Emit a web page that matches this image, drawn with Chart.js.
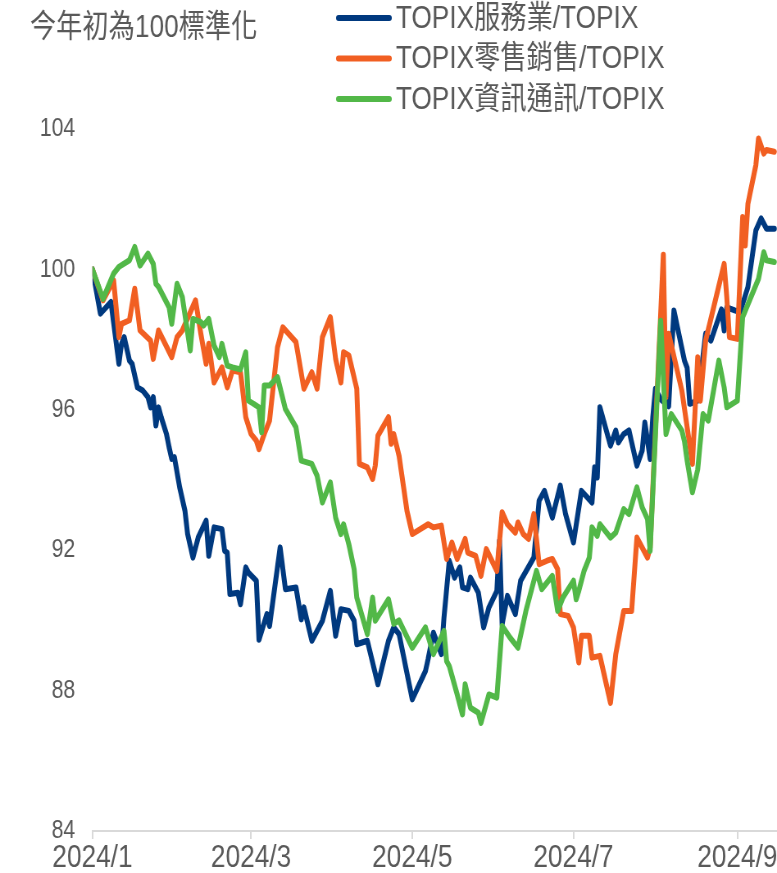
<!DOCTYPE html>
<html>
<head>
<meta charset="utf-8">
<script src="https://cdn.jsdelivr.net/npm/chart.js@4/dist/chart.umd.min.js"></script>
<style>
html,body{margin:0;padding:0;overflow:hidden;background:#fff;width:777px;height:873px;}
#wrap{position:absolute;left:0;top:0;width:948px;height:873px;transform:scaleX(0.8196);transform-origin:0 0;}
</style>
</head>
<body>
<div id="wrap"><canvas id="c" width="948" height="873"></canvas></div>
<script>
// ---- data ----
const noteText = '今年初為100標準化';
const seriesNames = ['TOPIX服務業/TOPIX', 'TOPIX零售銷售/TOPIX', 'TOPIX資訊通訊/TOPIX'];
const seriesColors = ['#00397F', '#F15F22', '#52B848'];
const xTickDates = ['1/1', '3/1', '5/1', '7/1', '9/1'];
const xTickLabels = ['2024/1', '2024/3', '2024/5', '2024/7', '2024/9'];
const yTickValues = [84, 88, 92, 96, 100, 104];

const serviceDates = [
  '1/1','1/4','1/8','1/11','1/12','1/13','1/15','1/16','1/18','1/20','1/22','1/23','1/24','1/25','1/26','1/27','1/29','1/30','1/31',
  '2/1','2/3','2/5','2/6','2/8','2/10','2/13','2/14','2/16','2/19','2/20','2/21','2/22','2/25','2/26','2/28','2/29',
  '3/3','3/4','3/7','3/8','3/12','3/14','3/18','3/20','3/21','3/24','3/28','3/31',
  '4/2','4/4','4/7','4/9','4/10','4/14','4/18','4/22','4/24','4/26',
  '5/1','5/6','5/7','5/9','5/12','5/13','5/15','5/17','5/19','5/20','5/22','5/23','5/26','5/28','5/30',
  '6/2','6/3','6/4','6/6','6/9','6/11','6/16','6/18','6/20','6/23','6/26','6/28',
  '7/1','7/4','7/8','7/9','7/10','7/11','7/15','7/17','7/18','7/20','7/22','7/25','7/27','7/28','7/30','7/31',
  '8/1','8/3','8/6','8/8','8/12','8/13','8/14','8/17','8/20','8/22','8/26','8/27','8/28','8/31',
  '9/2','9/5','9/8','9/10','9/12','9/15'];
const serviceValues = [
  100.0,98.74,99.07,97.31,97.88,98.07,97.40,97.31,96.64,96.55,96.36,96.07,96.36,95.55,96.07,95.79,95.31,94.93,94.60,
  94.65,93.79,93.12,92.46,91.79,92.36,92.84,91.84,92.65,92.60,91.98,91.93,90.75,90.79,90.46,91.51,91.36,
  91.13,89.45,90.18,89.84,92.08,90.89,90.94,90.03,90.37,89.42,89.99,90.84,
  89.56,90.32,90.27,89.99,89.32,89.42,88.18,89.42,89.80,89.61,
  87.75,88.56,88.90,89.65,89.04,90.08,91.70,91.22,91.51,90.94,90.89,91.22,90.79,89.80,90.37,
  90.84,92.27,89.89,90.70,90.18,91.13,91.79,93.41,93.69,92.93,93.84,93.03,
  92.22,93.69,93.36,94.36,94.07,96.07,94.98,95.41,95.07,95.31,95.41,94.41,94.84,95.64,94.60,95.79,
  96.60,96.30,96.10,98.83,97.40,97.20,96.17,96.26,98.17,97.97,98.86,98.26,98.92,98.83,
  98.78,99.50,101.11,101.45,101.16,101.16];

const retailDates = [
  '1/1','1/5','1/9','1/11','1/12','1/15','1/17','1/19','1/23','1/24','1/26','1/31',
  '2/2','2/4','2/9','2/11','2/13','2/14','2/16','2/19','2/21','2/23','2/26','2/27','2/28',
  '3/1','3/3','3/4','3/6','3/8','3/11','3/13','3/18','3/21','3/24','3/26','3/28','3/31',
  '4/2','4/4','4/5','4/7','4/10','4/11','4/14','4/16','4/17','4/18','4/22','4/23','4/24','4/26','4/29',
  '5/1','5/7','5/9','5/12','5/14','5/16','5/18','5/21','5/22','5/25','5/27','5/29',
  '6/2','6/4','6/6','6/9','6/10','6/12','6/14','6/16','6/18','6/21','6/23','6/25','6/26','6/29',
  '7/1','7/3','7/4','7/7','7/8','7/11','7/15','7/17','7/20','7/23','7/25','7/29','7/30',
  '8/4','8/5','8/6','8/11','8/15','8/17','8/18','8/20','8/27','8/28','8/29',
  '9/1','9/3','9/4','9/5','9/8','9/9','9/11','9/12','9/15'];
const retailValues = [
  100.0,99.12,99.69,98.07,98.45,98.55,99.45,98.26,97.97,97.45,98.26,97.50,
  98.07,98.26,99.12,98.17,97.31,97.88,96.78,97.21,96.64,97.12,97.07,96.45,95.79,
  95.31,95.12,94.88,95.31,95.69,97.78,98.35,97.93,96.60,97.07,96.60,98.07,98.64,
  97.45,96.78,97.64,97.55,96.60,94.46,94.36,94.03,94.41,95.26,95.79,95.03,95.31,94.69,93.12,
  92.46,92.74,92.65,92.70,91.75,92.22,91.75,92.32,91.93,91.84,91.27,92.03,
  91.41,93.08,92.74,92.50,92.79,92.46,92.32,93.03,91.60,91.70,91.75,91.46,90.18,90.13,
  89.80,88.80,89.56,89.56,88.94,88.99,87.65,89.04,90.27,90.27,92.36,91.79,92.08,
  100.42,96.36,98.17,96.55,94.46,97.50,96.26,97.97,100.16,99.21,98.07,
  98.02,101.49,100.68,101.87,102.97,103.73,103.30,103.40,103.35];

const telecomDates = [
  '1/1','1/5','1/9','1/11','1/15','1/17','1/19','1/22','1/24','1/25','1/26','1/30','1/31',
  '2/2','2/4','2/7','2/8','2/11','2/12','2/14','2/16','2/18','2/19','2/21','2/23','2/26','2/28','2/29',
  '3/2','3/4','3/5','3/6','3/8','3/11','3/14','3/18','3/20','3/24','3/26','3/28','3/31',
  '4/2','4/4','4/5','4/7','4/9','4/10','4/14','4/16','4/17','4/22','4/24','4/26',
  '5/1','5/6','5/9','5/13','5/14','5/15','5/18','5/20','5/21','5/23','5/26','5/27','5/30',
  '6/2','6/4','6/7','6/10','6/13','6/17','6/19','6/23','6/25','6/27',
  '7/1','7/2','7/3','7/5','7/7','7/8','7/10','7/11','7/15','7/17','7/20','7/22','7/25','7/27','7/29','7/30',
  '8/3','8/5','8/7','8/11','8/12','8/13','8/15','8/17','8/19','8/21','8/25','8/27','8/28',
  '9/1','9/3','9/9','9/11','9/12','9/15'];
const telecomValues = [
  100.0,99.16,99.88,100.07,100.26,100.64,100.11,100.45,100.16,99.59,99.50,98.92,98.45,
  99.59,99.21,97.69,98.59,98.50,98.40,98.59,97.83,97.50,97.88,97.26,97.21,97.15,97.64,96.26,
  96.17,96.07,95.36,96.69,96.69,96.93,96.02,95.50,94.55,94.46,94.12,93.36,93.93,
  92.93,92.46,92.74,92.17,91.46,90.65,89.61,90.65,89.99,90.60,89.90,90.00,
  89.22,89.80,89.04,89.70,88.84,88.70,87.89,87.32,88.18,87.51,87.37,87.08,87.89,
  87.80,89.84,89.51,89.22,90.27,91.41,90.89,91.27,90.27,90.65,
  91.13,90.60,90.84,91.41,91.79,92.65,92.41,92.74,92.36,92.50,93.17,93.03,93.79,93.22,92.89,91.98,
  98.54,95.31,95.88,95.41,95.10,94.55,93.65,94.30,95.88,95.69,97.40,96.64,96.07,
  96.26,98.64,99.73,100.49,100.26,100.21];

// ---- helpers ----
const DAY0 = Date.UTC(2024, 0, 1);
function dayOf(md) {
  const [m, d] = md.split('/').map(Number);
  return (Date.UTC(2024, m - 1, d) - DAY0) / 864e5;
}
function toPoints(dates, values) {
  return dates.map((d, i) => ({ x: dayOf(d), y: values[i] }));
}
const FONT = '"Liberation Sans", "Noto Sans CJK TC", Arial, sans-serif';
const TEXT_COLOR = '#595959';

const overlayPlugin = {
  id: 'overlay',
  afterDraw(chart) {
    const ctx = chart.ctx;
    ctx.save();
    const rows = [18, 58.5, 99];
    chart.data.datasets.forEach((ds, i) => {
      const y = rows[i];
      ctx.strokeStyle = ds.borderColor;
      ctx.lineWidth = 6;
      ctx.lineCap = 'round';
      ctx.beginPath();
      ctx.moveTo(413, y);
      ctx.lineTo(475, y);
      ctx.stroke();
      ctx.fillStyle = TEXT_COLOR;
      ctx.font = '32px ' + FONT;
      ctx.textBaseline = 'middle';
      ctx.textAlign = 'left';
      ctx.fillText(ds.label, 483, y + 1);
    });
    ctx.fillStyle = TEXT_COLOR;
    ctx.font = '32px ' + FONT;
    ctx.textBaseline = 'middle';
    ctx.fillText(noteText, 36.6, 28);
    ctx.restore();
  }
};

const seriesData = [
  toPoints(serviceDates, serviceValues),
  toPoints(retailDates, retailValues),
  toPoints(telecomDates, telecomValues)
];

new Chart(document.getElementById('c'), {
  type: 'line',
  data: {
    datasets: seriesData.map((pts, i) => ({
      label: seriesNames[i],
      data: pts,
      borderColor: seriesColors[i],
      backgroundColor: seriesColors[i],
      borderWidth: 6,
      pointRadius: 0,
      tension: 0,
      borderJoinStyle: 'round',
      borderCapStyle: 'round',
      order: 3 - i
    }))
  },
  options: {
    responsive: false,
    animation: false,
    layout: { padding: { top: 129, left: 0, right: 0, bottom: 0 } },
    plugins: { legend: { display: false }, tooltip: { enabled: false } },
    scales: {
      x: {
        type: 'linear',
        min: 0,
        max: 259,
        afterBuildTicks: s => { s.ticks = xTickDates.map(d => ({ value: dayOf(d) })); },
        afterFit: s => { s.height = 42; s.paddingLeft = 0; s.paddingRight = 0; },
        grid: { display: true, drawOnChartArea: false, drawTicks: true, tickLength: 8, color: '#d9d9d9', lineWidth: 2 },
        border: { display: true, color: '#d9d9d9', width: 2 },
        ticks: {
          autoSkip: false, maxRotation: 0, minRotation: 0, padding: 0,
          color: TEXT_COLOR, font: { family: FONT, size: 32 },
          callback: (v, i) => xTickLabels[i]
        }
      },
      y: {
        min: 84,
        max: 104,
        afterBuildTicks: s => { s.ticks = yTickValues.map(v => ({ value: v })); },
        afterFit: s => { s.width = 112.8; },
        grid: { display: false, drawTicks: false },
        border: { display: false },
        ticks: { padding: 21, color: TEXT_COLOR, font: { family: FONT, size: 26 } }
      }
    }
  },
  plugins: [overlayPlugin]
});
</script>
</body>
</html>
